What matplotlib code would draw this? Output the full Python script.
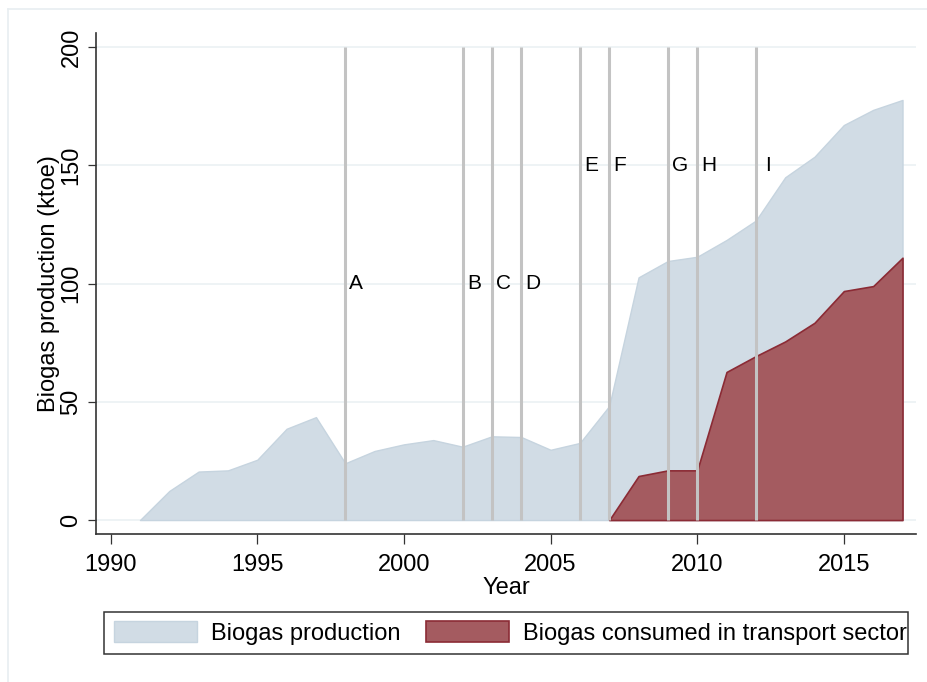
import matplotlib
matplotlib.use("Agg")
import matplotlib.pyplot as plt
from matplotlib.patches import Rectangle, Patch
from matplotlib.lines import Line2D

plt.rcParams['font.family'] = ['Liberation Sans', 'DejaVu Sans']

# biogas production (ktoe), 1991-2017
years = list(range(1991, 2018))
production = [0, 12.3, 20.5, 21, 25.5, 38.6, 43.5, 24, 29.2, 32, 33.8, 31,
              35.4, 35.1, 29.7, 32.6, 48.2, 102.6, 109.5, 111.3, 118.4,
              126.6, 144.9, 153.6, 167, 173.4, 177.6]

# biogas consumed in transport sector (ktoe), 2007-2017
transport_years = list(range(2007, 2018))
transport = [0, 18.6, 21, 21, 62.6, 69.3, 75.5, 83.4, 96.8, 98.9, 110.9]

# policy events
event_years = [1998, 2002, 2003, 2004, 2006, 2007, 2009, 2010, 2012]
event_labels = ['A', 'B', 'C', 'D', 'E', 'F', 'G', 'H', 'I']
event_label_y = [100, 100, 100, 100, 150, 150, 150, 150, 150]

x_ticks = [1990, 1995, 2000, 2005, 2010, 2015]
y_ticks = [0, 50, 100, 150, 200]

prod_fill = '#d1dce5'
prod_edge = '#c6d4df'
trans_fill = '#a45b60'
trans_edge = '#8b2b35'

fig = plt.figure(figsize=(9.28, 6.82), dpi=100)
W, H = 928, 682

# light outer frame (graph region)
fig.add_artist(Line2D([8 / W, 8 / W], [0, 1 - 9 / H], transform=fig.transFigure,
                      color='#e8eef1', lw=1.2))
fig.add_artist(Line2D([8 / W, 1], [1 - 9 / H, 1 - 9 / H], transform=fig.transFigure,
                      color='#e8eef1', lw=1.2))

ax = fig.add_axes([96 / W, 1 - 534 / H, 820 / W, 501 / H])

ax.fill_between(years, production, 0, facecolor=prod_fill, edgecolor=prod_edge,
                lw=1.0, zorder=2)
ax.fill_between(transport_years, transport, 0, facecolor=trans_fill,
                edgecolor=trans_edge, lw=1.2, zorder=3)

ax.vlines(event_years, 0, 200, color='#c3c3c3', lw=2.2, zorder=4)
for xv, lab, yv in zip(event_years, event_labels, event_label_y):
    dx = 7 if lab == 'I' else 3
    ax.annotate(lab, (xv, yv), xytext=(dx, 0), textcoords='offset points',
                ha='left', va='center', fontsize=15, color='black', zorder=5)

ax.set_xlim(1989.5, 2017.46)
ax.set_ylim(-5.9, 205.9)
ax.set_xticks(x_ticks)
ax.set_yticks(y_ticks)
ax.grid(axis='y', color='#eaf0f3', lw=1.1, zorder=0)
ax.set_axisbelow(True)

for side in ['top', 'right']:
    ax.spines[side].set_visible(False)
for side in ['left', 'bottom']:
    ax.spines[side].set_color('#333333')
    ax.spines[side].set_linewidth(1.2)

ax.tick_params(axis='x', length=7.2, width=0.9, color='#333333', pad=7,
               labelsize=17)
ax.tick_params(axis='y', length=5.8, width=0.9, color='#333333', pad=4,
               labelsize=17)
for t in ax.get_yticklabels():
    t.set_rotation(90)
    t.set_va('center')

ax.set_xlabel('Year', fontsize=17, labelpad=1)
ax.set_ylabel('Biogas production (ktoe)', fontsize=17, labelpad=0)

# legend frame (text overflows the right border like the original)
fig.add_artist(Rectangle((104 / W, 1 - 654 / H), 804 / W, 42 / H,
                         transform=fig.transFigure, facecolor='white',
                         edgecolor='#333333', lw=1.1, zorder=1))
handles = [Patch(facecolor=prod_fill, edgecolor=prod_edge, lw=1.0),
           Patch(facecolor=trans_fill, edgecolor=trans_edge, lw=1.2)]
leg = fig.legend(handles, ['Biogas production', 'Biogas consumed in transport sector'],
                 loc='center left', bbox_to_anchor=(114 / W, 1 - 633 / H),
                 ncol=2, frameon=False, fontsize=17, borderpad=0,
                 borderaxespad=0, handlelength=3.5, handleheight=1.0,
                 handletextpad=0.6, columnspacing=1.1)
leg.set_zorder(2)

fig.savefig('out.png', dpi=100)
